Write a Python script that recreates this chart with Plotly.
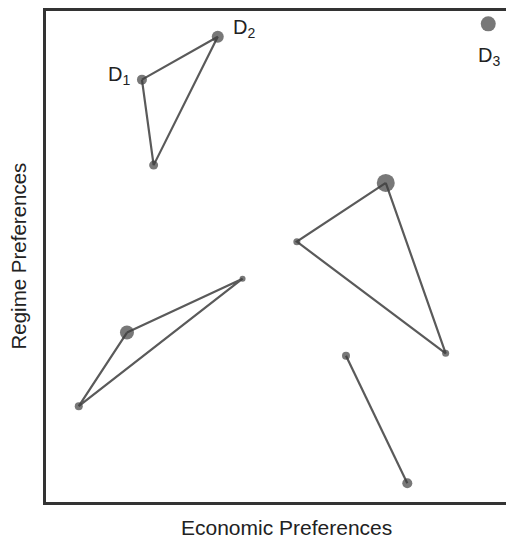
import plotly.graph_objects as go

# each group is a closed polygon (or a segment) of party positions
# coordinates on an arbitrary 0-10 scale (economic, regime)
grp_a_x = [2.05, 3.67, 2.30]
grp_a_y = [8.55, 9.42, 6.82]
grp_a_size = [10, 12, 9]

grp_b_x = [7.26, 5.36, 8.54]
grp_b_y = [6.46, 5.27, 3.01]
grp_b_size = [18, 7, 7]

grp_c_x = [1.73, 4.20, 0.70]
grp_c_y = [3.43, 4.52, 1.94]
grp_c_size = [14, 6, 8]

grp_d_x = [6.41, 7.72]
grp_d_y = [2.96, 0.38]
grp_d_size = [8, 10]

d3_x = [9.45]
d3_y = [9.68]
d3_size = [15]

labels = ["D<sub>1</sub>", "D<sub>2</sub>", "D<sub>3</sub>"]
label_x = [2.05, 3.67, 9.45]
label_y = [8.55, 9.42, 9.68]

LINE = "#5a5a5a"
DOT = "#3f3f3f"
FONT = "Liberation Sans, Arial, sans-serif"

fig = go.Figure()

for xs, ys, ss, closed in [(grp_a_x, grp_a_y, grp_a_size, True),
                           (grp_b_x, grp_b_y, grp_b_size, True),
                           (grp_c_x, grp_c_y, grp_c_size, True),
                           (grp_d_x, grp_d_y, grp_d_size, False)]:
    lx = xs + [xs[0]] if closed else xs
    ly = ys + [ys[0]] if closed else ys
    fig.add_trace(go.Scatter(x=lx, y=ly, mode="lines",
                             line=dict(color=LINE, width=2.2),
                             showlegend=False, hoverinfo="skip"))
    fig.add_trace(go.Scatter(x=xs, y=ys, mode="markers",
                             marker=dict(color=DOT, size=ss, line_width=0),
                             showlegend=False))

fig.add_trace(go.Scatter(x=d3_x, y=d3_y, mode="markers",
                         marker=dict(color=DOT, size=d3_size, line_width=0),
                         showlegend=False))

# D labels: D1 left of point, D2 upper right, D3 below
offsets = [(-23, 4), (26, 8), (1, -33)]
for t, x, y, (ax, ay) in zip(labels, label_x, label_y, offsets):
    fig.add_annotation(x=x, y=y, text=t, showarrow=False,
                       xshift=ax, yshift=ay,
                       font=dict(size=20, color="#222", family=FONT))

# axis titles as annotations so they sit exactly
fig.add_annotation(xref="paper", yref="paper", x=0.513, y=0, yshift=-12,
                   yanchor="top", text="Economic Preferences", showarrow=False,
                   font=dict(size=21, color="#222", family=FONT))
fig.add_annotation(xref="paper", yref="paper", x=0, xshift=-28, y=0.5,
                   xanchor="center", text="Regime Preferences", showarrow=False,
                   textangle=-90, font=dict(size=20.5, color="#222", family=FONT))

fig.update_xaxes(range=[0, 10], showgrid=False, zeroline=False,
                 showticklabels=False, ticks="", showline=True,
                 linecolor="#333", linewidth=3, mirror=True)
fig.update_yaxes(range=[0, 9.94], showgrid=False, zeroline=False,
                 showticklabels=False, ticks="", showline=True,
                 linecolor="#333", linewidth=3, mirror=False)

# the page adds an 8px body margin, so the figure is a bit smaller than the window
fig.update_layout(width=506, height=531,
                  margin=dict(l=38, r=0, t=0, b=37),
                  plot_bgcolor="white", paper_bgcolor="white")

fig.write_html("out.html")
